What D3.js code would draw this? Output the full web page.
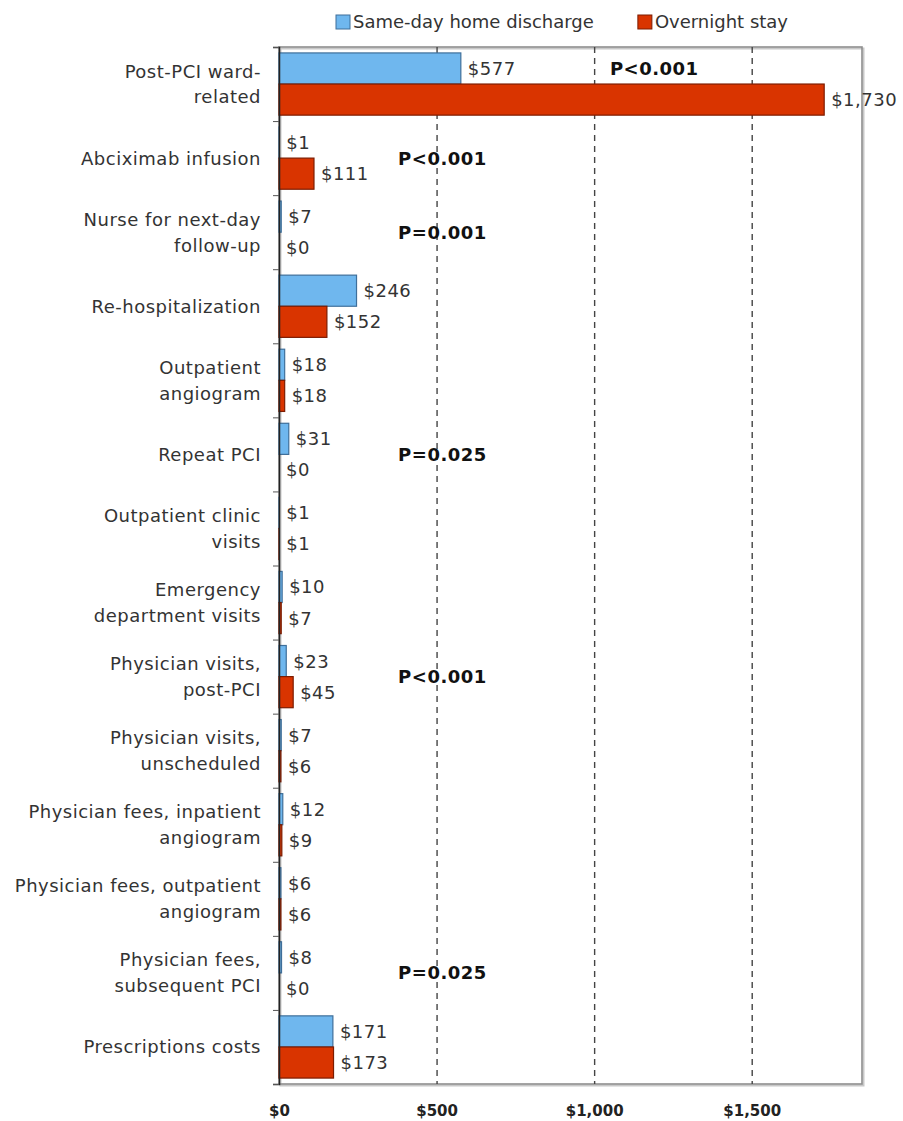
<!DOCTYPE html>
<html>
<head>
<meta charset="utf-8">
<script src="https://cdn.jsdelivr.net/npm/d3@7"></script>
<style>
  body { margin: 0; background: #fff; }
  svg { font-family: 'DejaVu Sans', Verdana, sans-serif; }
  .cat { font-size: 18px; fill: #333; letter-spacing: 0.5px; }
  .val { font-size: 18px; fill: #333; letter-spacing: 0.5px; }
  .pval { font-size: 18px; font-weight: bold; fill: #111; letter-spacing: 0.5px; }
  .legend text { font-size: 18px; fill: #333; }
</style>
</head>
<body>
<div id="chart"></div>
<script>
const categories = [
  'Post-PCI ward-\nrelated',
  'Abciximab infusion',
  'Nurse for next-day\nfollow-up',
  'Re-hospitalization',
  'Outpatient\nangiogram',
  'Repeat PCI',
  'Outpatient clinic\nvisits',
  'Emergency\ndepartment visits',
  'Physician visits,\npost-PCI',
  'Physician visits,\nunscheduled',
  'Physician fees, inpatient\nangiogram',
  'Physician fees, outpatient\nangiogram',
  'Physician fees,\nsubsequent PCI',
  'Prescriptions costs'
]
const sameDay = [577, 1, 7, 246, 18, 31, 1, 10, 23, 7, 12, 6, 8, 171]
const overnight = [1730, 111, 0, 152, 18, 0, 1, 7, 45, 6, 9, 6, 0, 173]
const pValues = ['P<0.001', 'P<0.001', 'P=0.001', '', '', 'P=0.025', '', '',
  'P<0.001', '', '', '', 'P=0.025', '']
const xTicks = [0, 500, 1000, 1500]
const seriesNames = ['Same-day home discharge', 'Overnight stay']

const width = 903, height = 1121
const margin = { top: 47, right: 41, bottom: 37, left: 279 }
const innerW = width - margin.left - margin.right
const innerH = height - margin.top - margin.bottom
const colors = ['#6fb7ee', '#d93400']
const strokes = ['#3f6f9a', '#7d1c00']

const svg = d3.select('#chart').append('svg')
  .attr('width', width)
  .attr('height', height)

const g = svg.append('g')
  .attr('transform', `translate(${margin.left},${margin.top})`)

const x = d3.scaleLinear().domain([0, 1850]).range([0, innerW])
const y = d3.scaleBand().domain(d3.range(categories.length))
  .range([0, innerH]).paddingInner(0.16).paddingOuter(0.08)
const sub = d3.scaleBand().domain([0, 1]).range([0, y.bandwidth()])
const yEdge = d3.scaleLinear().domain([0, categories.length]).range([0, innerH])

// frame with soft shadow
g.append('rect')
  .attr('x', 1.5).attr('y', 1.5)
  .attr('width', innerW).attr('height', innerH)
  .attr('fill', 'none').attr('stroke', '#c8c8c8').attr('stroke-width', 2)
g.append('rect')
  .attr('width', innerW).attr('height', innerH)
  .attr('fill', 'none').attr('stroke', '#8e8e8e').attr('stroke-width', 1.6)

// dashed grid
g.append('g')
  .attr('class', 'grid')
  .call(d3.axisBottom(x).tickValues(xTicks.slice(1)).tickSize(innerH).tickFormat(''))
  .call(s => s.select('.domain').remove())
  .selectAll('line')
  .attr('stroke', '#444').attr('stroke-width', 1.4).attr('stroke-dasharray', '6,5')

// bars
const rows = g.append('g').selectAll('g')
  .data(categories)
  .join('g')
  .attr('transform', (d, i) => `translate(0,${y(i)})`)

const series = [sameDay, overnight]
series.forEach((vals, s) => {
  rows.append('rect')
    .attr('x', 0)
    .attr('y', sub(s))
    .attr('width', (d, i) => x(vals[i]))
    .attr('height', sub.bandwidth())
    .attr('fill', colors[s])
    .attr('stroke', strokes[s])
    .attr('stroke-width', (d, i) => vals[i] > 0 ? 1.2 : 0)

  rows.append('text')
    .attr('class', 'val')
    .attr('x', (d, i) => x(vals[i]) + 7)
    .attr('y', sub(s) + sub.bandwidth() / 2)
    .attr('dy', '0.36em')
    .text((d, i) => '$' + d3.format(',')(vals[i]))
})

// p values
g.append('g').selectAll('text')
  .data(pValues.map((p, i) => ({ p, i })).filter(d => d.p))
  .join('text')
  .attr('class', 'pval')
  .attr('x', d => d.i === 0 ? x(1050) : x(378))
  .attr('y', d => d.i === 0 ? y(0) + sub(0) + sub.bandwidth() / 2 : y(d.i) + y.bandwidth() / 2)
  .attr('dy', '0.36em')
  .text(d => d.p)

// left axis with ticks at category edges
g.append('g')
  .call(d3.axisLeft(yEdge).tickValues(d3.range(categories.length + 1)).tickSize(6).tickFormat(''))
  .call(s => s.select('.domain').attr('stroke', '#222').attr('stroke-width', 1.5))
  .selectAll('line').attr('stroke', '#555')

// category labels
const labels = g.append('g').selectAll('text')
  .data(categories)
  .join('text')
  .attr('class', 'cat')
  .attr('text-anchor', 'end')
  .attr('x', -18)
  .attr('y', (d, i) => y(i) + y.bandwidth() / 2)
labels.each(function (d) {
  const lines = d.split('\n')
  const t = d3.select(this)
  lines.forEach((line, k) => {
    t.append('tspan')
      .attr('x', -18)
      .attr('dy', k === 0 ? `${0.36 - (lines.length - 1) * 0.72}em` : '1.44em')
      .text(line)
  })
})

// x axis labels
g.append('g')
  .attr('transform', `translate(0,${innerH})`)
  .call(d3.axisBottom(x).tickValues(xTicks).tickSize(0).tickPadding(21)
    .tickFormat(d => '$' + d3.format(',')(d)))
  .call(s => s.select('.domain').remove())
  .selectAll('text')
  .style('font-family', "'DejaVu Sans', Verdana, sans-serif")
  .style('font-size', '15px')
  .style('font-weight', 'bold')
  .attr('fill', '#222')

// legend
const legend = svg.append('g').attr('class', 'legend')
  .attr('transform', 'translate(336,22)')
let lx = 0
seriesNames.forEach((name, s) => {
  const item = legend.append('g').attr('transform', `translate(${lx},0)`)
  item.append('rect')
    .attr('x', 0).attr('y', -7).attr('width', 14).attr('height', 14)
    .attr('fill', colors[s]).attr('stroke', strokes[s]).attr('stroke-width', 1)
  const t = item.append('text')
    .attr('x', 17).attr('dy', '0.36em')
    .text(name)
  lx += 17 + t.node().getComputedTextLength() + 44
})
</script>
</body>
</html>
